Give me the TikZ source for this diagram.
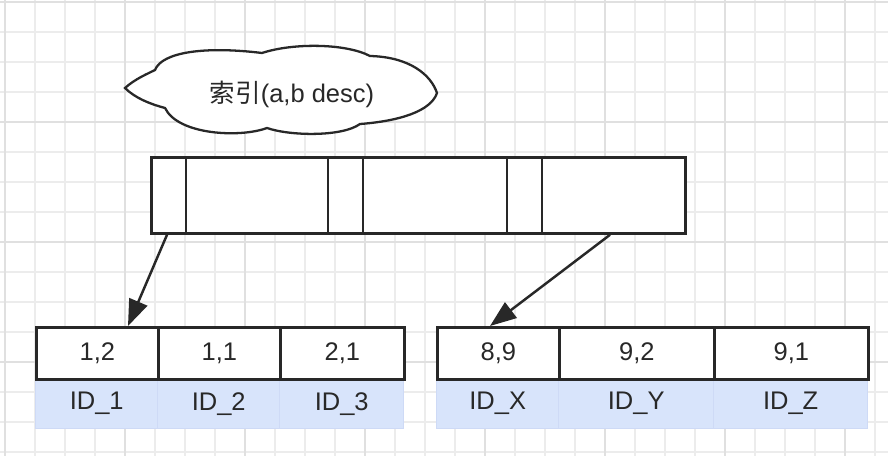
\documentclass[tikz,border=0pt]{standalone}
\usepackage{fontspec}
\setmainfont{Liberation Sans}
\newfontfamily\cjk{Noto Sans CJK SC}
\usetikzlibrary{arrows.meta}
\definecolor{gridminor}{RGB}{236,236,236}
\definecolor{gridmajor}{RGB}{224,224,224}
\definecolor{idfill}{RGB}{216,228,251}
\definecolor{idedge}{RGB}{206,218,246}
\definecolor{ink}{RGB}{40,40,40}

\begin{document}
\begin{tikzpicture}[x=0.02cm, y=-0.02cm, font=\fontsize{14.5}{17}\selectfont, text=ink,
  keycell/.style={draw=ink, line width=1.5pt, fill=white, anchor=north west, inner sep=0pt, minimum height=1.04cm},
  idcell/.style={draw=idedge, line width=0.8pt, fill=idfill, anchor=north west, inner sep=0pt, minimum height=1cm},
  link/.style={draw=ink, line width=1.4pt, -{Triangle[length=15pt, width=11pt]}}]
\useasboundingbox (0,0) rectangle (888,456);
\fill[white] (0,0) rectangle (888,456);
\foreach \g in {0,...,29}
  \draw[gridminor, line width=0.7pt] (5+30*\g, 0) -- (5+30*\g, 456);
\foreach \g in {0,...,15}
  \draw[gridminor, line width=0.7pt] (0, 2+30*\g) -- (888, 2+30*\g);
\foreach \g in {0,...,7}
  \draw[gridmajor, line width=0.7pt] (5+120*\g, 0) -- (5+120*\g, 456);
\foreach \g in {0,...,3}
  \draw[gridmajor, line width=0.7pt] (0, 2+120*\g) -- (888, 2+120*\g);

\draw[ink, line width=1.3pt, fill=white] (125,88)
  .. controls (135,79) and (147,74) .. (155,70)
  .. controls (162,52) and (205,46) .. (262,53)
  .. controls (292,43) and (345,43) .. (370,56)
  .. controls (410,57) and (431,75) .. (437,93)
  .. controls (431,111) and (400,121) .. (360,124)
  .. controls (342,137) and (290,136) .. (267,128)
  .. controls (240,138) and (178,135) .. (165,108)
  .. controls (150,104) and (135,98) .. (125,88) -- cycle;
\node (lbl) at (292,94) {{\cjk 索引}(a,b desc)};

\node[keycell, line width=1.6pt, minimum width=10.68cm, minimum height=1.52cm] (idx) at (150,156) {};
\foreach \x in {186,328,363,507,542}
  \draw[ink, line width=1.6pt] (\x,0 |- idx.north) -- (\x,0 |- idx.south);

\foreach \x/\w/\k/\i [count=\n] in {35/2.44cm/{1,2}/ID\_1, 157/2.44cm/{1,1}/ID\_2, 279/2.48cm/{2,1}/ID\_3,
    436/2.44cm/{8,9}/ID\_X, 558/3.1cm/{9,2}/ID\_Y, 713/3.08cm/{9,1}/ID\_Z} {
  \node[idcell, minimum width=\w] (d\n) at (\x,378) {\i};
  \node[keycell, minimum width=\w] (k\n) at (\x,326) {\k};
}

\coordinate (s1) at (167,0 |- idx.south);
\coordinate (s2) at (610,0 |- idx.south);
\draw[link] (s1) -- (128,0 |- k1.north);
\draw[link] (s2) -- (490,0 |- k4.north);
\end{tikzpicture}
\end{document}
